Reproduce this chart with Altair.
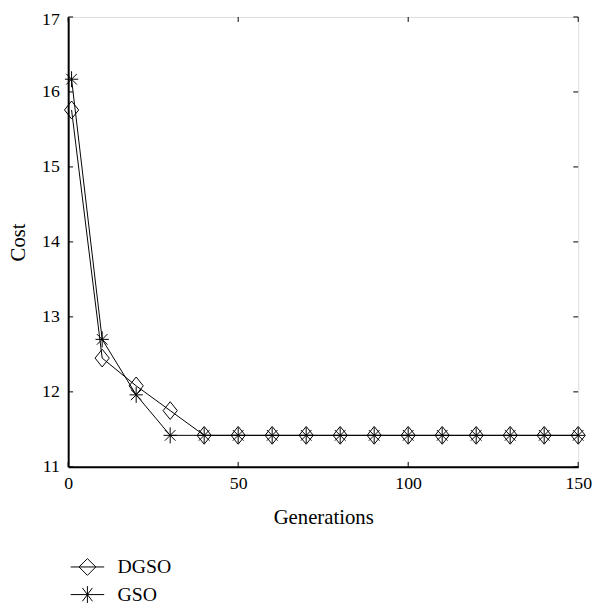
import altair as alt
import pandas as pd

generations = [1, 10, 20, 30, 40, 50, 60, 70, 80, 90, 100, 110, 120, 130, 140, 150]
dgso = [15.76, 12.45, 12.08, 11.75, 11.42, 11.42, 11.42, 11.42, 11.42, 11.42, 11.42, 11.42, 11.42, 11.42, 11.42, 11.42]
gso = [16.17, 12.70, 11.96, 11.42, 11.42, 11.42, 11.42, 11.42, 11.42, 11.42, 11.42, 11.42, 11.42, 11.42, 11.42, 11.42]
series_names = ["DGSO", "GSO"]
x_ticks = [0, 50, 100, 150]
y_ticks = [11, 12, 13, 14, 15, 16, 17]

rows = []
for g, d, s in zip(generations, dgso, gso):
    rows.append({"gen": g, "cost": d, "series": "DGSO"})
    rows.append({"gen": g, "cost": s, "series": "GSO"})
df = pd.DataFrame(rows)
xt = pd.DataFrame({"gen": x_ticks})
yt = pd.DataFrame({"cost": y_ticks})

W, H = 517, 456
FONT = "Liberation Serif"

DIAMOND = "M0,-1L0.8,0L0,1L-0.8,0Z"
ASTER = "M-0.75,0L0.75,0M0,-0.9L0,0.9M-0.6,-0.6L0.6,0.6M-0.6,0.6L0.6,-0.6"
LEG_DIAMOND = "M-1,0L1,0M0,-0.5L0.5,0L0,0.5L-0.5,0Z"
LEG_ASTER = "M-1,0L1,0M0,-0.5L0,0.5M-0.3,-0.4L0.3,0.4M-0.3,0.4L0.3,-0.4"

xscale = alt.Scale(domain=[0, 150], nice=False)
yscale = alt.Scale(domain=[11, 17], nice=False)

xaxis = alt.Axis(values=x_ticks, title="Generations", ticks=False, tickSize=0,
                 labelPadding=8, titlePadding=14, domainWidth=2, domainColor="black",
                 grid=False, labelFontSize=18, titleFontSize=21, labelFont=FONT,
                 titleFont=FONT, titleFontWeight="normal", labelColor="black",
                 titleColor="black", labelFlush=False)
yaxis = alt.Axis(values=y_ticks, title="Cost", ticks=False, tickSize=0,
                 labelPadding=9, titlePadding=13, domainWidth=2, domainColor="black",
                 grid=False, labelFontSize=18, titleFontSize=21, labelFont=FONT,
                 titleFont=FONT, titleFontWeight="normal", labelColor="black",
                 titleColor="black", labelFlush=False,
                 labelOffset={"condition": {"test": "datum.value == 17", "value": 3}, "value": 0})

X = alt.X("gen:Q", scale=xscale, axis=xaxis)
Y = alt.Y("cost:Q", scale=yscale, axis=yaxis)

lines = alt.Chart(df).mark_line(color="black", strokeWidth=1).encode(
    x=X, y=Y, detail="series:N",
)

points = alt.Chart(df).mark_point(filled=False, stroke="black", strokeWidth=1, size=324, opacity=1).encode(
    x=X, y=Y,
    shape=alt.Shape("series:N", scale=alt.Scale(domain=series_names, range=[DIAMOND, ASTER]), legend=None),
)

legend_src = alt.Chart(df).mark_point(filled=False, stroke="black", strokeWidth=1, size=1156, opacity=0).encode(
    x=X, y=Y,
    shape=alt.Shape("series:N", scale=alt.Scale(domain=series_names, range=[LEG_DIAMOND, LEG_ASTER]),
                    legend=alt.Legend(title=None, orient="none", legendX=2, legendY=540,
                                      symbolSize=1156, symbolOpacity=1, symbolStrokeColor="black",
                                      symbolFillColor="transparent", symbolStrokeWidth=1,
                                      labelFont=FONT, labelFontSize=20, labelColor="black",
                                      labelOffset=13, rowPadding=-7, padding=0)),
)

bottom_ticks = alt.Chart(xt).mark_rule(color="black", strokeWidth=1).encode(
    x=X, y=alt.value(H), y2=alt.value(H - 5))
top_ticks = alt.Chart(xt).mark_rule(color="black", strokeWidth=1).encode(
    x=X, y=alt.value(0), y2=alt.value(5))
left_ticks = alt.Chart(yt).mark_rule(color="black", strokeWidth=1).encode(
    y=Y, x=alt.value(0), x2=alt.value(5))
right_ticks = alt.Chart(yt).mark_rule(color="black", strokeWidth=1).encode(
    y=Y, x=alt.value(W), x2=alt.value(W - 5))

chart = alt.layer(lines, legend_src, points, bottom_ticks, top_ticks, left_ticks, right_ticks).resolve_scale(
    shape="independent"
).properties(
    width=W, height=H,
    autosize=alt.AutoSizeParams(type="none"),
    padding={"left": 61, "top": 5, "right": 15, "bottom": 140},
).configure_view(stroke="black", strokeWidth=1).configure(background="white")

chart.save("out.html", embed_options={"renderer": "svg", "actions": False})
